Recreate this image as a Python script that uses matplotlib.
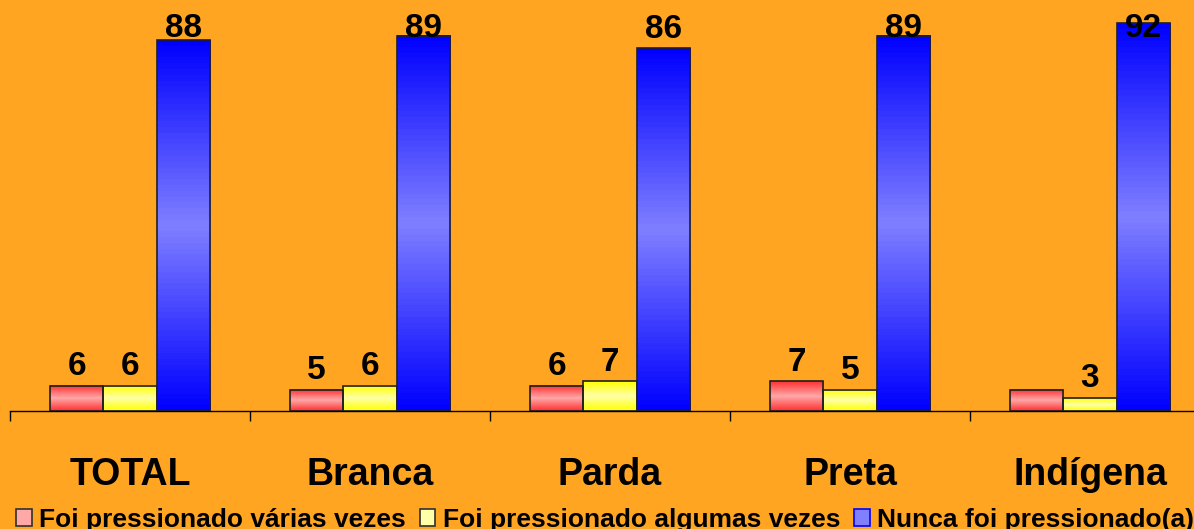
import matplotlib.pyplot as plt
import numpy as np
from matplotlib.colors import LinearSegmentedColormap
from matplotlib.patches import Patch

plt.rcParams['font.family'] = ['Liberation Sans', 'DejaVu Sans']

categories = ['TOTAL', 'Branca', 'Parda', 'Preta', 'Indígena']
series_names = ['Foi pressionado várias vezes', 'Foi pressionado algumas vezes',
                'Nunca foi pressionado(a)']
varias = [6, 5, 6, 7, 5]
algumas = [6, 6, 7, 5, 3]
nunca = [88, 89, 86, 89, 92]
# the red value for Indígena has no label on the original
show_label = [[True, True, True, True, False],
              [True, True, True, True, True],
              [True, True, True, True, True]]

bg = '#FFA522'
# edge colour, centre colour of the cylinder-like shading
shades = [('#FF3030', '#FFA8A8'), ('#FFFF00', '#FFFFA8'), ('#0000FF', '#8080FF')]

fig = plt.figure(figsize=(11.94, 5.29), dpi=100, facecolor=bg)
ax = fig.add_axes([10 / 1194, 118 / 529, 1 - 10 / 1194, 411 / 529])
ax.set_facecolor(bg)

n = len(categories)
w = 0.222
x = np.arange(n)
ymax = 97.5

for k, vals in enumerate([varias, algumas, nunca]):
    c_edge, c_mid = shades[k]
    cmap = LinearSegmentedColormap.from_list('s%d' % k, [c_edge, c_mid, c_edge])
    grad = np.linspace(0, 1, 64).reshape(-1, 1)
    xs = x + (k - 1) * w
    bars = ax.bar(xs, vals, w, color='none', edgecolor='#202020', linewidth=1.2, zorder=3)
    for b, v in zip(bars, vals):
        ax.imshow(grad, cmap=cmap, aspect='auto', zorder=2,
                  extent=(b.get_x(), b.get_x() + w, 0, v))
    for xi, v, show in zip(xs, vals, show_label[k]):
        if show:
            ty = min(v + 2.6, 88.7)
            ax.text(xi, ty, str(v), ha='center', va='baseline', fontsize=24,
                    fontweight='bold', zorder=5)

ax.set_xlim(-0.5, -0.5 + 1184 / 240)
ax.set_ylim(0, ymax)

for s in ['top', 'right', 'left']:
    ax.spines[s].set_visible(False)
ax.spines['bottom'].set_color('black')
ax.spines['bottom'].set_linewidth(1.0)
ax.set_yticks([])
ax.set_xticks(x)
ax.set_xticklabels(categories, fontsize=27, fontweight='bold')
ax.tick_params(axis='x', which='major', length=0, pad=33)
ax.set_xticks(np.arange(n) - 0.5, minor=True)
ax.tick_params(axis='x', which='minor', length=7.5, width=1, direction='out')

handles = []
for k in range(3):
    handles.append(Patch(facecolor=shades[k][1], edgecolor=shades[k][0] if k == 2 else '#303030',
                         linewidth=1.2))
fig.legend(handles, series_names, loc='lower left', bbox_to_anchor=(0.0067, -0.02),
           ncol=3, frameon=False, prop={'size': 19, 'weight': 'bold'},
           handlelength=0.6, handleheight=0.6, handletextpad=0.27,
           columnspacing=0.53, borderaxespad=0, borderpad=0.3)

fig.savefig('out.png', dpi=100, facecolor=bg)
